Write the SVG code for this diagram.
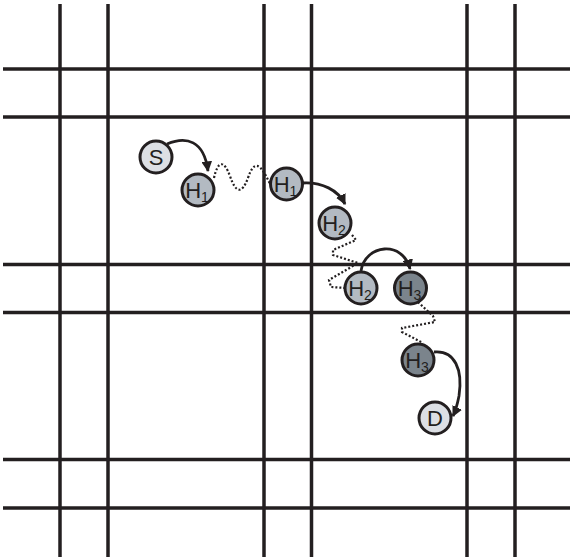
<svg xmlns="http://www.w3.org/2000/svg" width="570" height="560" viewBox="0 0 570 560">
<style>
.grid line{stroke:#231f20;stroke-width:3.5}
.node circle{stroke:#231f20;stroke-width:3}
.node text{font-family:"Liberation Sans",Arial,sans-serif;font-size:22px;fill:#231f20;text-anchor:middle}
.sub{font-size:14px}
.arc{fill:none;stroke:#231f20;stroke-width:2.8}
.dot{fill:none;stroke:#231f20;stroke-width:2.2;stroke-dasharray:2 2}
.light{fill:#dcdfe4}
.mid{fill:#b3bac2}
.dark{fill:#7b848c}
</style>
<defs>
<marker id="ah" viewBox="0 0 10 10" refX="9" refY="5" markerWidth="3.8" markerHeight="3.8" orient="auto" markerUnits="strokeWidth">
<path d="M0,0 L10,5 L0,10 Z" fill="#231f20"/>
</marker>
</defs>
<g class="grid" id="grid">
<line x1="60" y1="4" x2="60" y2="557"/>
<line x1="108" y1="4" x2="108" y2="557"/>
<line x1="264" y1="4" x2="264" y2="557"/>
<line x1="311.5" y1="4" x2="311.5" y2="557"/>
<line x1="467" y1="4" x2="467" y2="557"/>
<line x1="515" y1="4" x2="515" y2="557"/>
<line x1="3" y1="69" x2="570" y2="69"/>
<line x1="3" y1="117" x2="570" y2="117"/>
<line x1="3" y1="264.5" x2="570" y2="264.5"/>
<line x1="3" y1="312.5" x2="570" y2="312.5"/>
<line x1="3" y1="459.5" x2="570" y2="459.5"/>
<line x1="3" y1="508" x2="570" y2="508"/>
</g>
<g id="connectors">
<path class="dot" d="M214,178 C218,160 224,160 230,176 C236,194 242,194 248,178 C254,160 260,162 270,184"/>
<path class="dot" d="M352,235 L356,240 L333,250 L333,255 L358,263 L329,280 L331,287 L346,288"/>
<path class="dot" d="M418,302 L433,316 L435,322 L402,328 L402,332 L423,343"/>
<path class="arc" d="M167,144 C186,136 204,140 208,171" marker-end="url(#ah)"/>
<path class="arc" d="M303,183 C322,182 338,190 345,204" marker-end="url(#ah)"/>
<path class="arc" d="M361,271 C365,244 403,240 410,269" marker-end="url(#ah)"/>
<path class="arc" d="M434,352 C455,350 463,370 459,396 C457,406 455,412 453,416" marker-end="url(#ah)"/>
</g>
<g class="node" id="S">
<circle class="light" cx="156" cy="157" r="16"/>
<text x="156" y="165">S</text>
</g>
<g class="node" id="H1a">
<circle class="mid" cx="198" cy="190" r="16"/>
<text x="197" y="198">H<tspan class="sub" dy="4">1</tspan></text>
</g>
<g class="node" id="H1b">
<circle class="mid" cx="286.5" cy="184" r="16"/>
<text x="285.5" y="192">H<tspan class="sub" dy="4">1</tspan></text>
</g>
<g class="node" id="H2a">
<circle class="mid" cx="335" cy="223" r="16"/>
<text x="334" y="231">H<tspan class="sub" dy="4">2</tspan></text>
</g>
<g class="node" id="H2b">
<circle class="mid" cx="361" cy="288" r="16"/>
<text x="360" y="296">H<tspan class="sub" dy="4">2</tspan></text>
</g>
<g class="node" id="H3a">
<circle class="dark" cx="410.5" cy="288" r="16"/>
<text x="409.5" y="296">H<tspan class="sub" dy="4">3</tspan></text>
</g>
<g class="node" id="H3b">
<circle class="dark" cx="418" cy="360" r="16"/>
<text x="417" y="368">H<tspan class="sub" dy="4">3</tspan></text>
</g>
<g class="node" id="D">
<circle class="light" cx="435" cy="418" r="16"/>
<text x="435" y="426">D</text>
</g>
</svg>
